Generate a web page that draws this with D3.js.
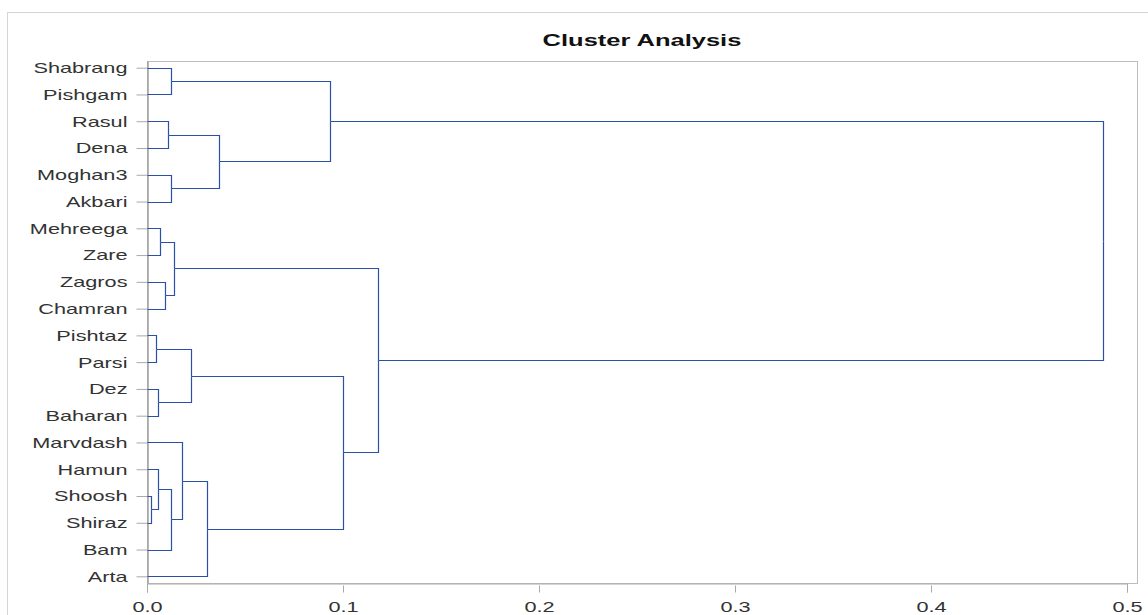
<!DOCTYPE html>
<html>
<head>
<meta charset="utf-8">
<script src="https://cdn.jsdelivr.net/npm/d3@7"></script>
<style>
  body { margin: 0; background: #fff; }
  text { font-family: "Liberation Sans", Arial, sans-serif; }
</style>
</head>
<body>
<svg id="chart" width="1148" height="615"></svg>
<script>
// leaves in display order, top to bottom
const leaves = ['Shabrang', 'Pishgam', 'Rasul', 'Dena', 'Moghan3', 'Akbari',
  'Mehreega', 'Zare', 'Zagros', 'Chamran', 'Pishtaz', 'Parsi', 'Dez', 'Baharan',
  'Marvdash', 'Hamun', 'Shoosh', 'Shiraz', 'Bam', 'Arta'];

// merges: [left id, right id, height]; ids < 20 are leaves, 20 + k is merge k
const merges = [
  [0, 1, 0.0121],
  [2, 3, 0.0109],
  [4, 5, 0.0121],
  [21, 22, 0.0369],
  [20, 23, 0.0934],
  [6, 7, 0.0065],
  [8, 9, 0.0090],
  [25, 26, 0.0138],
  [10, 11, 0.0048],
  [12, 13, 0.0056],
  [28, 29, 0.0223],
  [16, 17, 0.0020],
  [15, 31, 0.0056],
  [32, 18, 0.0122],
  [14, 33, 0.0177],
  [34, 19, 0.0306],
  [30, 35, 0.0998],
  [27, 36, 0.1180],
  [24, 37, 0.4878]
];

const xTicks = [0, 0.1, 0.2, 0.3, 0.4, 0.5];
const title = 'Cluster Analysis';

const margin = {top: 61, left: 147, bottom: 583, right: 1137};
const stretch = 1.55; // text in the reference is widened
const lineColor = '#2b50a8';
const axisColor = '#a9a9a9';

const svg = d3.select('#chart');

// outer frame
svg.append('rect')
  .attr('x', 7.5).attr('y', 12.5)
  .attr('width', 1200).attr('height', 700)
  .attr('fill', 'none')
  .attr('stroke', '#d4d4d4');

const x = d3.scaleLinear().domain([0, 0.5]).range([margin.left, 1127]);
const y = d3.scalePoint().domain(leaves).range([margin.top, margin.bottom]).padding(0.25);

// build nodes
const nodes = leaves.map(name => ({name: name, h: 0, y: y(name)}));
merges.forEach(m => {
  const a = nodes[m[0]], b = nodes[m[1]];
  nodes.push({children: [a, b], h: m[2], y: (a.y + b.y) / 2});
});
const root = d3.hierarchy(nodes[nodes.length - 1]);

// plot frame
svg.append('rect')
  .attr('x', margin.left + 0.5).attr('y', margin.top + 0.5)
  .attr('width', margin.right - margin.left).attr('height', margin.bottom - margin.top)
  .attr('fill', 'none')
  .attr('stroke', '#bdbdbd');

// title
svg.append('text')
  .attr('transform', 'translate(' + ((margin.left + margin.right) / 2) + ',46) scale(1.5,1)')
  .attr('text-anchor', 'middle')
  .attr('font-size', '17px')
  .attr('font-weight', 'bold')
  .attr('fill', '#111')
  .text(title);

// X Axis
const gx = svg.append('g')
  .attr('class', 'axis axis--x')
  .attr('transform', 'translate(0,' + (margin.bottom + 0.5) + ')')
  .call(d3.axisBottom(x).tickValues(xTicks).tickFormat(d3.format('.1f')).tickSizeOuter(0).tickSize(9));
gx.select('.domain').attr('stroke', axisColor);
gx.selectAll('.tick line').attr('stroke', axisColor).attr('y1', 2);
gx.selectAll('.tick text')
  .attr('y', 0).attr('dy', 0)
  .attr('transform', 'translate(0,28) scale(' + stretch + ',1)')
  .attr('font-size', '14px')
  .attr('fill', '#333');

// Y Axis
const gy = svg.append('g')
  .attr('class', 'axis axis--y')
  .attr('transform', 'translate(' + (margin.left + 0.5) + ',0)')
  .call(d3.axisLeft(y).tickSize(11).tickSizeOuter(0));
gy.select('.domain').attr('stroke', '#a0a0a0').attr('stroke-width', 1.5);
gy.selectAll('.tick line').attr('stroke', axisColor);
gy.selectAll('.tick text')
  .attr('x', 0).attr('dy', '0.35em')
  .attr('transform', 'translate(-20,0) scale(' + stretch + ',1)')
  .attr('font-size', '14px')
  .attr('fill', '#333');

// Links (elbow)
svg.append('g')
  .attr('class', 'links')
  .selectAll('path')
  .data(root.links())
  .enter().append('path')
    .attr('d', d => {
      const px = Math.round(x(d.source.data.h)) + 0.5;
      const cx = Math.round(x(d.target.data.h)) + 0.5;
      const py = Math.round(d.source.data.y) + 0.5;
      const cy = Math.round(d.target.data.y) + 0.5;
      return 'M' + cx + ',' + cy + 'H' + px + 'V' + py;
    })
    .attr('fill', 'none')
    .attr('stroke', lineColor)
    .attr('stroke-width', 1.2);
</script>
</body>
</html>
